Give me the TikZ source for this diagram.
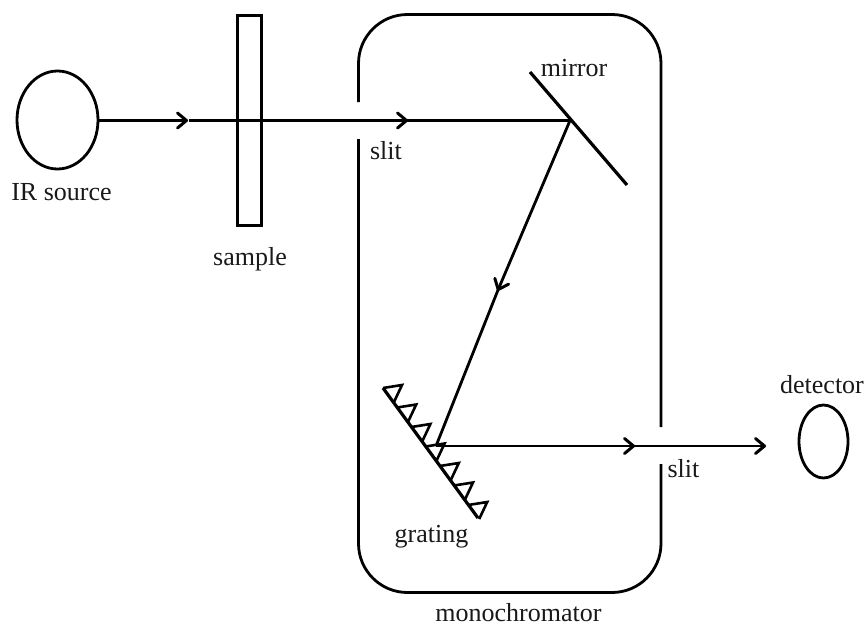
\documentclass[tikz,border=0pt]{standalone}
\usepackage{fontspec}
\setmainfont{Liberation Serif}
\usetikzlibrary{arrows.meta,shapes.geometric}
\tikzset{
  wire/.style={line width=2.8pt,line cap=butt},
  ray/.style={wire,-{Straight Barb[length=9pt,width=15pt,line width=3pt,round]},shorten >=-1pt},
  ovalbox/.style={ellipse,draw,line width=2.8pt,inner sep=0pt,fill=none},
  lbl/.style={anchor=base,inner sep=0pt,font=\fontsize{26}{26}\selectfont,text=black!90},
}
\begin{document}
\begin{tikzpicture}[x=1pt,y=-1pt]
\useasboundingbox (0,0) rectangle (867,624);
% components
\node[ovalbox,minimum width=81pt,minimum height=98pt] (source) at (57.5,120) {};
\node[ovalbox,minimum width=49pt,minimum height=73pt] (detector) at (823.5,441.5) {};
\node[draw,line width=2.8pt,minimum width=24pt,minimum height=210pt,inner sep=0pt] (sample) at (249.5,120.5) {};
% monochromator housing
\coordinate (lt) at (358.5,102); \coordinate (ltc) at (358.5,14.5); \coordinate (rtc) at (661,14.5); \coordinate (rt) at (661,427);
\coordinate (lb) at (358.5,139); \coordinate (lbc) at (358.5,592.5); \coordinate (rbc) at (661,592.5); \coordinate (rb) at (661,464);
\draw[wire,rounded corners=49pt] (lt) -- (ltc) -- (rtc) -- (rt);
\draw[wire,rounded corners=49pt] (lb) -- (lbc) -- (rbc) -- (rb);
% mirror
\coordinate (m1) at (530,72); \coordinate (m2) at (627,185);
\draw[wire,line width=3.2pt] (m1) -- (m2);
% grating
\coordinate (g1) at (383,388); \coordinate (g2) at (478,518);
\draw[wire,line width=3.2pt] (g1) -- (g2);
\foreach \i in {0,...,6} {
  \coordinate (ap\i) at ({402+14.2*\i},{385+19.5*\i});
  \draw[wire,line width=2.6pt,line join=miter] ([shift={(-19pt,-3pt)}]ap\i) -- (ap\i) -- ([shift={(-8pt,-17pt)}]ap\i);
}
% beam
\coordinate (a1) at (187,120.5); \coordinate (a1b) at (189,120.5);
\coordinate (a2) at (407,120.5); \coordinate (hitm) at (570,120.5);
\coordinate (a3) at (498,290); \coordinate (hitg) at (436,446);
\coordinate (a4) at (634,446); \coordinate (a5) at (765,446);
\coordinate (s1) at (source.east |- a1);
\draw[ray] (s1) -- (a1);
\draw[ray] (a1b) -- (a2);
\draw[wire] (a2) -- (hitm);
\draw[ray] (hitm) -- (a3);
\draw[wire] (a3) -- (hitg);
\draw[ray] (hitg) -- (a4);
\draw[ray] (a4) -- (a5);
% labels
\node[lbl] (t1) at (61.5,200) {IR source};
\node[lbl] (t2) at (250,265) {sample};
\node[lbl] (t3) at (386,159) {slit};
\node[lbl] (t4) at (574,76) {mirror};
\node[lbl] (t5) at (431.5,542) {grating};
\node[lbl] (t6) at (518.5,621.5) {monochromator};
\node[lbl] (t7) at (822,393) {detector};
\node[lbl] (t8) at (683.5,477) {slit};
\end{tikzpicture}
\end{document}
